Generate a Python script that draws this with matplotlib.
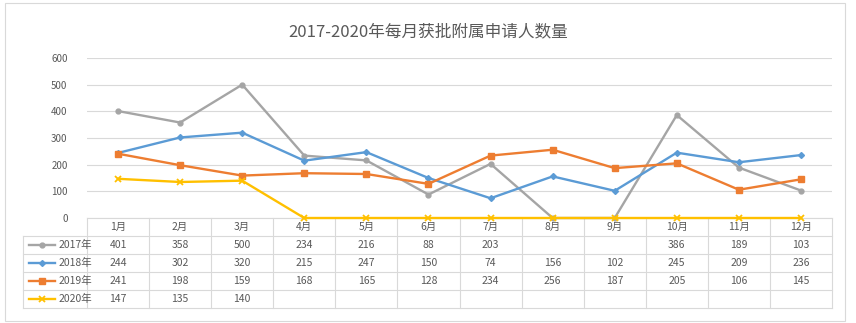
import matplotlib
matplotlib.use('Agg')
from matplotlib import pyplot as plt
from matplotlib.patches import Rectangle

plt.rcParams['font.family'] = ['Noto Sans CJK SC', 'DejaVu Sans']

months = ['1月', '2月', '3月', '4月', '5月', '6月', '7月', '8月', '9月', '10月', '11月', '12月']
series_names = ['2017年', '2018年', '2019年', '2020年']
# None = empty cell in the table (plotted as zero)
y2017 = [401, 358, 500, 234, 216, 88, 203, None, None, 386, 189, 103]
y2018 = [244, 302, 320, 215, 247, 150, 74, 156, 102, 245, 209, 236]
y2019 = [241, 198, 159, 168, 165, 128, 234, 256, 187, 205, 106, 145]
y2020 = [147, 135, 140, None, None, None, None, None, None, None, None, None]

colors = ['#A5A5A5', '#5B9BD5', '#ED7D31', '#FFC000']
markers = ['o', 'D', 's', 'x']
msizes = [3.5, 3, 4.5, 4.5]
text_c = '#595959'
grid_c = '#D9D9D9'

W, H = 856, 323
fig = plt.figure(figsize=(W / 100, H / 100), dpi=100)

# outer frame
fig.patches.append(Rectangle((5 / W, 2 / H), 840 / W, 318 / H, transform=fig.transFigure,
                             fill=False, edgecolor=grid_c, lw=0.8))

x0, x1 = 87, 832
ytop, ybot = 58, 218

# data table below the plot
lab_left = 23
row_h = 18
n_rows = 5
cw = (x1 - x0) / 12
tax = fig.add_axes([lab_left / W, 1 - (ybot + n_rows * row_h) / H,
                    (x1 - lab_left) / W, n_rows * row_h / H])
lx = -0.5 - (x0 - lab_left) / cw
tax.set_xlim(lx, 11.5)
tax.set_ylim(n_rows, 0)
tax.axis('off')

ax = fig.add_axes([x0 / W, 1 - ybot / H, (x1 - x0) / W, (ybot - ytop) / H])
ax.patch.set_visible(False)

xs = list(range(len(months)))
all_series = [y2017, y2018, y2019, y2020]
for vals, c, m, ms, name in zip(all_series, colors, markers, msizes, series_names):
    ys = [v if v is not None else 0 for v in vals]
    ax.plot(xs, ys, color=c, lw=1.7, marker=m, ms=ms, mew=1.3 if m == 'x' else 1,
            label=name, clip_on=False, zorder=3)

ax.set_xlim(-0.5, 11.5)
ax.set_ylim(0, 600)
ax.set_yticks(range(0, 601, 100))
ax.yaxis.grid(True, color=grid_c, lw=0.8)
ax.set_axisbelow(True)
ax.tick_params(axis='y', length=0, labelsize=7, labelcolor=text_c, pad=14)
ax.set_xticks([])
for s in ['top', 'right', 'left', 'bottom']:
    ax.spines[s].set_visible(False)

fig.text(0.5, 1 - 32 / H, '2017-2020年每月获批附属申请人数量', ha='center', va='center',
         fontsize=12, color=text_c)

lk = dict(color=grid_c, lw=0.8, clip_on=False)
# horizontal rules
tax.plot([-0.5, 11.5], [0, 0], **lk)
for r in range(1, n_rows + 1):
    tax.plot([lx, 11.5], [r, r], **lk)
# vertical rules
for k in range(13):
    tax.plot([k - 0.5, k - 0.5], [0, n_rows], **lk)
tax.plot([lx, lx], [1, n_rows], **lk)

fs = 7.5
for i, mname in enumerate(months):
    tax.text(i, 0.5, mname, ha='center', va='center', fontsize=fs, color=text_c)
for r, (vals, c, m, ms, name) in enumerate(zip(all_series, colors, markers, msizes, series_names), start=1):
    for i, v in enumerate(vals):
        if v is not None:
            tax.text(i, r + 0.5, str(v), ha='center', va='center', fontsize=fs, color=text_c)
    # legend key: short line with a marker in the middle
    kx = lx + 0.1
    tax.plot([kx, kx + 0.42], [r + 0.5, r + 0.5], color=c, lw=1.7)
    tax.plot([kx + 0.21], [r + 0.5], marker=m, color=c, ms=ms, mew=1.3 if m == 'x' else 1)
    tax.text(kx + 0.48, r + 0.5, name, ha='left', va='center', fontsize=fs, color=text_c)

fig.savefig('out.png', dpi=100)
